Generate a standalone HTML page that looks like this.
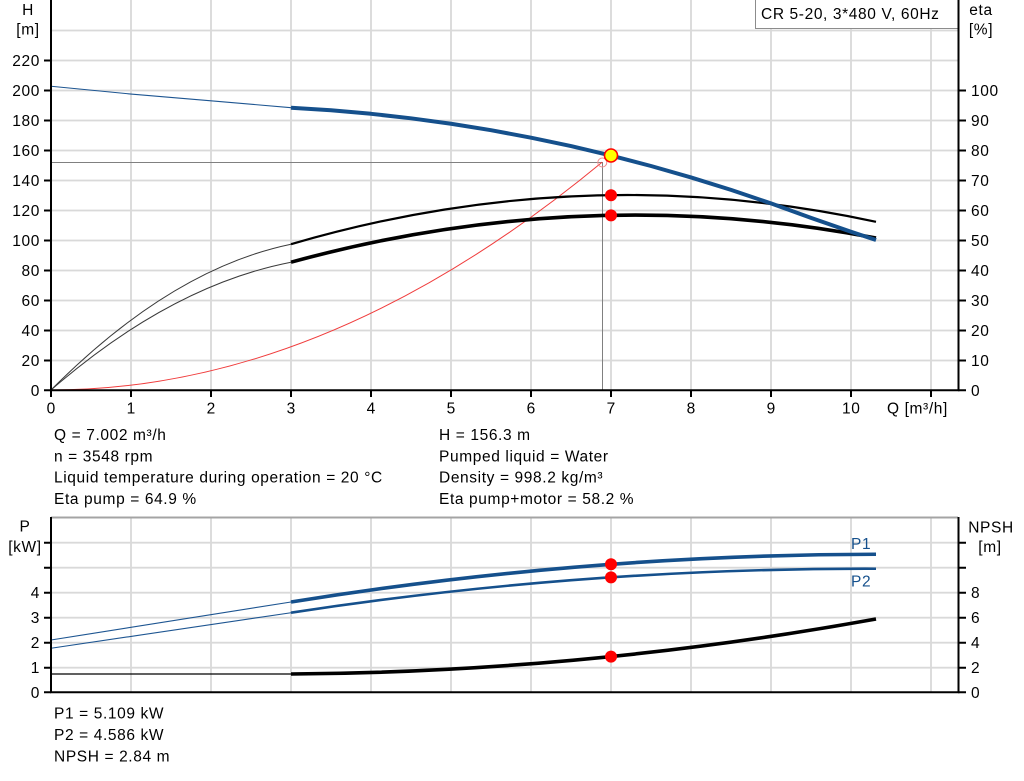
<!DOCTYPE html>
<html><head><meta charset="utf-8"><style>
html,body{margin:0;padding:0;background:#fff;}
svg{display:block;}
text{font-family:"Liberation Sans",Arial,sans-serif;font-size:15.5px;letter-spacing:0.62px;fill:#000;}
</style></head><body>
<svg width="1024" height="781" viewBox="0 0 1024 781" xmlns="http://www.w3.org/2000/svg">
<rect width="1024" height="781" fill="#fff"/>
<!-- TOP gridlines -->
<g stroke="#d9d9d9" stroke-width="1.8" fill="none">
<path d="M131,0V390M211,0V390M291,0V390M371,0V390M451,0V390M531,0V390M611,0V390M691,0V390M771,0V390M851,0V390M931,0V390"/>
<path d="M51,30.5H958M51,60.5H958M51,90.5H958M51,120.5H958M51,150.5H958M51,180.5H958M51,210.5H958M51,240.5H958M51,270.5H958M51,300.5H958M51,330.5H958M51,360.5H958"/>
</g>
<!-- BOTTOM gridlines -->
<g stroke="#d9d9d9" stroke-width="1.8" fill="none">
<path d="M131,518V692M211,518V692M291,518V692M371,518V692M451,518V692M531,518V692M611,518V692M691,518V692M771,518V692M851,518V692M931,518V692"/>
<path d="M51,542.7H958M51,567.7H958M51,592.7H958M51,617.7H958M51,642.7H958M51,667.7H958"/>
</g>
<line x1="51" y1="517.5" x2="958" y2="517.5" stroke="#a4a4a4" stroke-width="2"/>

<!-- legend -->
<rect x="755.5" y="-1" width="202.5" height="29.5" fill="#fff" stroke="#8c8c8c" stroke-width="1"/>
<text x="761" y="19">CR 5-20, 3*480 V, 60Hz</text>

<!-- operating point lines -->
<path d="M51,162.5H602.5V390" stroke="#808080" stroke-width="1" fill="none"/>

<!-- system curve -->
<path d="M51,390 Q326.6,390 602.2,162.1" stroke="#f03c3c" stroke-width="1" fill="none"/>
<circle cx="602.3" cy="162.5" r="4.5" fill="none" stroke="#f08a8a" stroke-width="1"/>

<!-- eta curves -->
<g fill="none" stroke-linejoin="round">
<path d="M51,390 Q171,269.2 291,244.2" stroke="#3a3a3a" stroke-width="1"/>
<path d="M291,244.2 Q583,158.7 876,221.8" stroke="#000" stroke-width="2.2"/>
<path d="M51,390 Q171,285.6 291,262.2" stroke="#3a3a3a" stroke-width="1"/>
<path d="M291,262.2 Q583,182.2 876,238.0" stroke="#000" stroke-width="3.6"/>
<!-- head -->
<path d="M51,86.25 L131,94.05 L211,100.8 L291,107.7" stroke="#1d5591" stroke-width="1.1"/>
<path d="M291,107.7 L331,110.25 L371,113.8 L411,118.3 L451,123.75 L491,130.2 L531,137.7 L571,146.1 L611,155.55 L651,166 L691,177.45 L731,189.9 L771,203.4 L811,217.9 L851,231.75 L876,240" stroke="#15508c" stroke-width="4"/>
</g>
<circle cx="611" cy="195.3" r="6" fill="#ff0000"/>
<circle cx="611" cy="215.4" r="6" fill="#ff0000"/>
<circle cx="611" cy="155.5" r="6.5" fill="#ffff00" stroke="#ff0000" stroke-width="1.6"/>

<!-- bottom curves -->
<g fill="none" stroke-linejoin="round">
<path d="M51,640 L291,602" stroke="#1d5591" stroke-width="1.1"/>
<path d="M291,602 Q583,554.8 876,554.25" stroke="#15508c" stroke-width="3.6"/>
<path d="M51,648.25 L291,612.75" stroke="#1d5591" stroke-width="1.1"/>
<path d="M291,612.7 Q583,567.9 876,568.75" stroke="#15508c" stroke-width="2.6"/>
<path d="M51,674 L291,674" stroke="#000" stroke-width="1.2"/>
<path d="M291,674 Q583,672 876,619" stroke="#000" stroke-width="3.6"/>
</g>
<circle cx="611" cy="564.3" r="6" fill="#ff0000"/>
<circle cx="611" cy="577.35" r="6" fill="#ff0000"/>
<circle cx="611" cy="656.6" r="6" fill="#ff0000"/>
<text x="851" y="548.8" style="fill:#15508c">P1</text>
<text x="851" y="586.5" style="fill:#15508c">P2</text>

<!-- axes top -->
<g stroke="#000" stroke-width="2" fill="none">
<path d="M51,0V391.3M50,390.3H959.5M958.5,0V391.3"/>
<path d="M44,60.5H51M44,90.5H51M44,120.5H51M44,150.5H51M44,180.5H51M44,210.5H51M44,240.5H51M44,270.5H51M44,300.5H51M44,330.5H51M44,360.5H51M44,390.3H51"/>
<path d="M958,90.5H966M958,120.5H966M958,150.5H966M958,180.5H966M958,210.5H966M958,240.5H966M958,270.5H966M958,300.5H966M958,330.5H966M958,360.5H966M958,390.3H966"/>
<path d="M51,390V397M131,390V397M211,390V397M291,390V397M371,390V397M451,390V397M531,390V397M611,390V397M691,390V397M771,390V397M851,390V397M931,390V397"/>
</g>
<!-- axes bottom -->
<g stroke="#000" stroke-width="2" fill="none">
<path d="M51,517V693.3M50,692.3H959.5M958.5,517V693.3"/>
<path d="M44,542.7H51M44,567.7H51M44,592.7H51M44,617.7H51M44,642.7H51M44,667.7H51M44,692.3H51"/>
<path d="M958,542.7H966M958,567.7H966M958,592.7H966M958,617.7H966M958,642.7H966M958,667.7H966M958,692.3H966"/>
</g>

<!-- top axis labels -->
<text x="28" y="15" text-anchor="middle">H</text>
<text x="28" y="34.5" text-anchor="middle">[m]</text>
<text x="981" y="15" text-anchor="middle">eta</text>
<text x="981" y="34.5" text-anchor="middle">[%]</text>
<g text-anchor="end">
<text x="40" y="66">220</text>
<text x="40" y="96">200</text>
<text x="40" y="126">180</text>
<text x="40" y="156">160</text>
<text x="40" y="186">140</text>
<text x="40" y="216">120</text>
<text x="40" y="246">100</text>
<text x="40" y="276">80</text>
<text x="40" y="306">60</text>
<text x="40" y="336">40</text>
<text x="40" y="366">20</text>
<text x="40" y="396">0</text>
</g>
<g>
<text x="971" y="96">100</text>
<text x="971" y="126">90</text>
<text x="971" y="156">80</text>
<text x="971" y="186">70</text>
<text x="971" y="216">60</text>
<text x="971" y="246">50</text>
<text x="971" y="276">40</text>
<text x="971" y="306">30</text>
<text x="971" y="336">20</text>
<text x="971" y="366">10</text>
<text x="971" y="396">0</text>
</g>
<g text-anchor="middle">
<text x="51.3" y="413.3">0</text>
<text x="131.3" y="413.3">1</text>
<text x="211.3" y="413.3">2</text>
<text x="291.3" y="413.3">3</text>
<text x="371.3" y="413.3">4</text>
<text x="451.3" y="413.3">5</text>
<text x="531.3" y="413.3">6</text>
<text x="611.3" y="413.3">7</text>
<text x="691.3" y="413.3">8</text>
<text x="771.3" y="413.3">9</text>
<text x="851.3" y="413.3">10</text>
</g>
<text x="887" y="413.3">Q [m³/h]</text>

<!-- info text -->
<text x="54" y="440">Q = 7.002 m³/h</text>
<text x="54" y="461.3">n = 3548 rpm</text>
<text x="54" y="482.6">Liquid temperature during operation = 20 °C</text>
<text x="54" y="504">Eta pump = 64.9 %</text>
<text x="439" y="440">H = 156.3 m</text>
<text x="439" y="461.3">Pumped liquid = Water</text>
<text x="439" y="482.6">Density = 998.2 kg/m³</text>
<text x="439" y="504">Eta pump+motor = 58.2 %</text>

<!-- bottom axis labels -->
<text x="25" y="531.5" text-anchor="middle">P</text>
<text x="25" y="552" text-anchor="middle">[kW]</text>
<text x="991" y="532.5" text-anchor="middle">NPSH</text>
<text x="990" y="552" text-anchor="middle">[m]</text>
<g text-anchor="end">
<text x="40" y="598.2">4</text>
<text x="40" y="623.2">3</text>
<text x="40" y="648.2">2</text>
<text x="40" y="673.2">1</text>
<text x="40" y="697.8">0</text>
</g>
<g>
<text x="971" y="598.2">8</text>
<text x="971" y="623.2">6</text>
<text x="971" y="648.2">4</text>
<text x="971" y="673.2">2</text>
<text x="971" y="697.8">0</text>
</g>
<text x="54" y="718.3">P1 = 5.109 kW</text>
<text x="54" y="740">P2 = 4.586 kW</text>
<text x="54" y="761.7">NPSH = 2.84 m</text>
</svg>
</body></html>
